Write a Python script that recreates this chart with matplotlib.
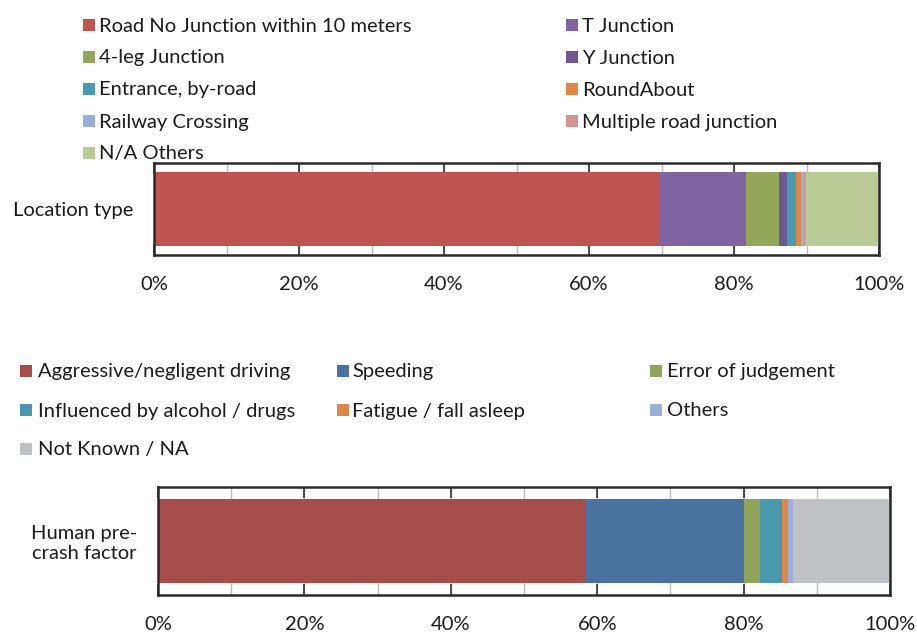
import matplotlib
matplotlib.use("Agg")
import matplotlib.pyplot as plt
from matplotlib.patches import Rectangle

plt.rcParams['font.family'] = ['Lato', 'DejaVu Sans']

# ---- data ----
loc_labels = ["Road No Junction within 10 meters", "T Junction", "4-leg Junction",
              "Y Junction", "Entrance, by-road", "RoundAbout", "Railway Crossing",
              "Multiple road junction", "N/A Others"]
loc_values = [69.7, 12.0, 4.5, 1.15, 1.15, 0.7, 0.45, 0.3, 10.05]
loc_colors = ["#BE5450", "#8064A2", "#93A65A", "#6E5890", "#4A9AAE", "#DD8848",
              "#98AED6", "#D49694", "#BACB98"]

hum_labels = ["Aggressive/negligent driving", "Speeding", "Error of judgement",
              "Influenced by alcohol / drugs", "Fatigue / fall asleep", "Others",
              "Not Known / NA"]
hum_values = [58.4, 21.6, 2.3, 3.0, 0.8, 0.6, 13.3]
hum_colors = ["#A54D4A", "#4A72A0", "#8FA45A", "#4A98AC", "#DC8747", "#9BB0D8",
              "#C0C1C5"]

tick_vals = [0, 20, 40, 60, 80, 100]
tick_text = ["0%", "20%", "40%", "60%", "80%", "100%"]

W, H = 917, 633
fig = plt.figure(figsize=(W / 100, H / 100), dpi=100)
TXT = "#1b1b1b"
FS = 14.5


def px_axes(x0, y0, x1, y1):
    return fig.add_axes([x0 / W, 1 - y1 / H, (x1 - x0) / W, (y1 - y0) / H])


def stacked(ax, values, colors, ylabel, ylim):
    left = 0
    for v, c in zip(values, colors):
        ax.barh(0, v, left=left, height=1.0, color=c, edgecolor="none", zorder=2)
        left += v
    ax.set_xlim(0, 100)
    ax.set_ylim(-ylim, ylim)
    ax.set_xticks(tick_vals)
    ax.set_xticklabels(tick_text, fontsize=FS, color=TXT)
    ax.set_xticks(range(0, 101, 10), minor=True)
    ax.grid(True, axis="x", which="both", color="#BDBDBD", lw=1.0, zorder=0)
    ax.tick_params(axis="x", which="major", direction="in", length=8, width=1.2,
                   color="#333333", top=True, bottom=True, pad=15)
    ax.tick_params(axis="x", which="minor", length=0)
    ax.set_yticks([0])
    ax.set_yticklabels([ylabel], fontsize=FS, color=TXT, multialignment="center")
    ax.tick_params(axis="y", length=0, pad=15)
    for s in ax.spines.values():
        s.set_color("#2a2a2a")
        s.set_linewidth(1.8)


def legend(labels, colors, slots):
    for lab, col, (mx, ty, tx) in zip(labels, colors, slots):
        fig.add_artist(Rectangle((mx / W, 1 - (ty + 6) / H), 12 / W, 12 / H,
                                 transform=fig.transFigure, color=col, lw=0))
        fig.text(tx / W, 1 - (ty + 1) / H, lab, fontsize=FS, color=TXT,
                 ha="left", va="center")


ax1 = px_axes(154, 163, 879, 255)
stacked(ax1, loc_values, loc_colors, "Location type", 0.63)

ax2 = px_axes(158, 487, 890, 595)
stacked(ax2, hum_values, hum_colors, "Human pre-\ncrash factor", 0.643)

c1, c2 = (83, 99), (566, 582)
rows1 = [25, 57, 89, 121, 153]
legend(loc_labels, loc_colors,
       [(c1[0], rows1[0], c1[1]), (c2[0], rows1[0], c2[1]),
        (c1[0], rows1[1], c1[1]), (c2[0], rows1[1], c2[1]),
        (c1[0], rows1[2], c1[1]), (c2[0], rows1[2], c2[1]),
        (c1[0], rows1[3], c1[1]), (c2[0], rows1[3], c2[1]),
        (c1[0], rows1[4], c1[1])])

cols2 = [(20, 38), (337, 352), (650, 667)]
rows2 = [371, 410, 449]
slots2 = []
for i in range(len(hum_labels)):
    r, c = divmod(i, 3)
    slots2.append((cols2[c][0], rows2[r], cols2[c][1]))
legend(hum_labels, hum_colors, slots2)

fig.savefig("out.png", dpi=100, facecolor="white")
